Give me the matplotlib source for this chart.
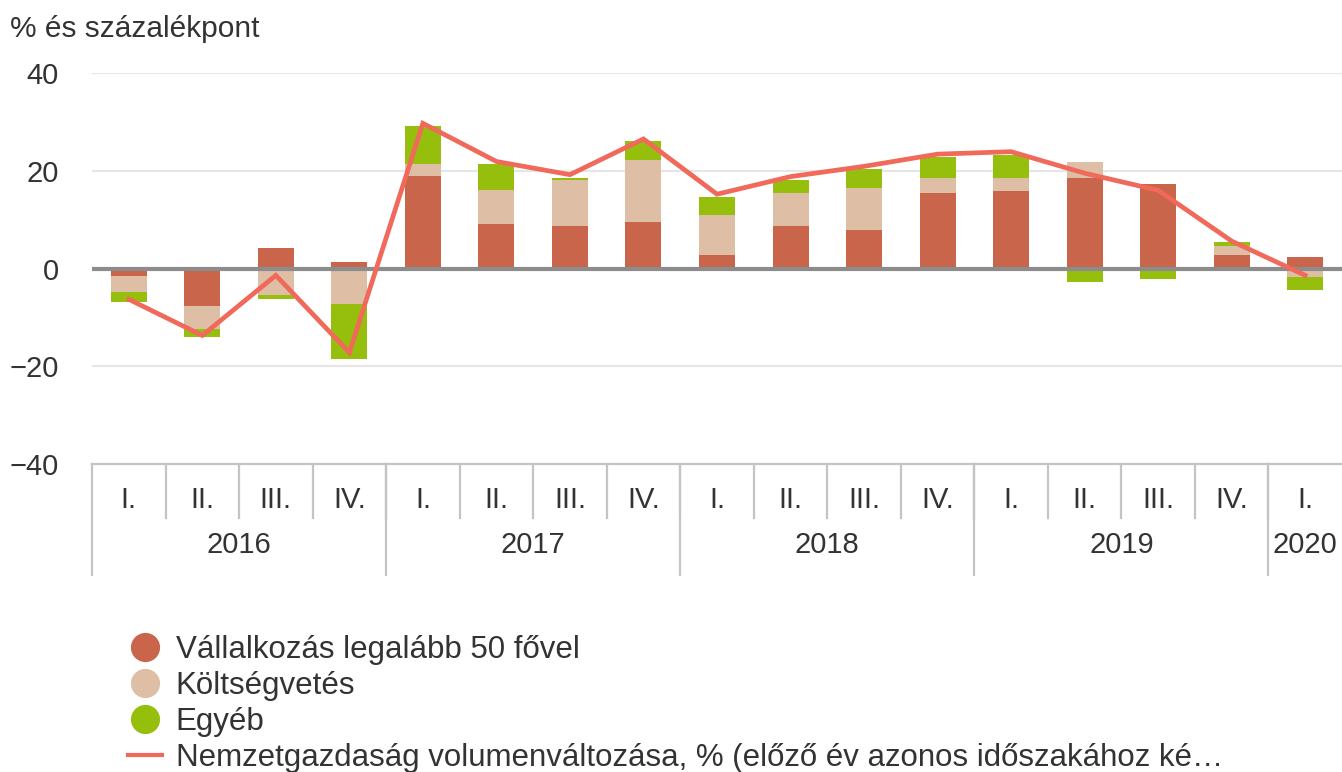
import numpy as np
import matplotlib
matplotlib.use("Agg")
from matplotlib import pyplot as plt
from matplotlib.lines import Line2D

plt.rcParams['font.family'] = ['Liberation Sans', 'DejaVu Sans']

quarters = ["I.", "II.", "III.", "IV."] * 4 + ["I."]
years = ["2016", "2017", "2018", "2019", "2020"]
year_len = [4, 4, 4, 4, 1]

vallalkozas = [-1.5, -7.7, 4.1, 1.4, 19.0, 9.1, 8.6, 9.5, 2.7, 8.6, 7.8, 15.4, 15.9, 18.6, 17.3, 2.7, 2.3]
koltsegvetes = [-3.4, -4.6, -5.5, -7.3, 2.4, 6.9, 9.6, 12.7, 8.2, 6.8, 8.6, 3.2, 2.7, 3.2, 0.0, 1.9, -1.8]
egyeb = [-1.9, -1.8, -0.8, -11.3, 7.8, 5.4, 0.4, 3.8, 3.7, 2.8, 4.0, 4.3, 4.7, -2.7, -2.2, 0.8, -2.7]
nemzetgazdasag = [-6.3, -13.7, -1.4, -17.2, 29.7, 21.9, 19.2, 26.5, 15.2, 18.8, 20.9, 23.4, 23.9, 19.5, 16.0, 5.6, -1.4]

labels = ["Vállalkozás legalább 50 fővel", "Költségvetés", "Egyéb",
          "Nemzetgazdaság volumenváltozása, % (előző év azonos időszakához ké…"]
colors = ["#C9654A", "#DEBFA6", "#96BF0D"]
line_color = "#F0695A"
grey_txt = "#333333"
sep_color = "#C4C4C4"

fig = plt.figure(figsize=(13.42, 7.72), dpi=100)
ax = fig.add_axes([92 / 1342, 1 - 464 / 772, 1 - 92 / 1342, (464 - 73) / 772])

x = np.arange(len(quarters))
pos_bottom = np.zeros(len(x))
neg_bottom = np.zeros(len(x))
# positive and negative parts are stacked separately from zero
for series, c in zip([vallalkozas, koltsegvetes, egyeb], colors):
    v = np.array(series)
    bottom = np.where(v >= 0, pos_bottom, neg_bottom)
    ax.bar(x, v, bottom=bottom, width=0.49, color=c, linewidth=0, zorder=2)
    pos_bottom += np.where(v > 0, v, 0)
    neg_bottom += np.where(v < 0, v, 0)

ax.plot(x, nemzetgazdasag, color=line_color, lw=3.4, zorder=4, solid_joinstyle='miter')

ax.set_xlim(-0.5, 16.5)
ax.set_ylim(-40, 40)
ax.set_yticks([-40, -20, 0, 20, 40])
ax.set_yticklabels(["\u221240", "\u221220", "0", "20", "40"])
ax.tick_params(axis='y', length=0, pad=24, labelsize=21, labelcolor=grey_txt)
ax.set_xticks([])
for s in ax.spines.values():
    s.set_visible(False)

for yv in [20, 40, -20]:
    ax.axhline(yv, color="#E6E6E6", lw=1.5, zorder=0)
ax.axhline(0, color="#8C8C8C", lw=3, zorder=3)
ax.axhline(-40, color=sep_color, lw=1.6, zorder=3, clip_on=False)

# two-level category axis: quarters, then years
tr = ax.get_xaxis_transform()
for i, q in enumerate(quarters):
    ax.text(i, -0.092, q, transform=tr, ha='center', va='center', fontsize=21, color=grey_txt)
    if i > 0:
        ax.plot([i - 0.5, i - 0.5], [0, -0.138], transform=tr, color=sep_color, lw=1.6, clip_on=False)

start = 0
for yr, n in zip(years, year_len):
    ax.text(start + (n - 1) / 2, -0.207, yr, transform=tr, ha='center', va='center', fontsize=21, color=grey_txt)
    ax.plot([start - 0.5, start - 0.5], [0, -0.284], transform=tr, color=sep_color, lw=1.6, clip_on=False)
    start += n

fig.text(10 / 1342, 1 - 29 / 772, "% és százalékpont", ha='left', va='center', fontsize=21.5, color=grey_txt)

handles = [Line2D([], [], marker='o', ls='none', ms=20, mfc=c, mec=c) for c in colors]
handles.append(Line2D([], [], color=line_color, lw=3))
fig.legend(handles, labels, loc='upper left', bbox_to_anchor=(128 / 1342, 1 - 635 / 772),
           frameon=False, fontsize=22.5, handlelength=1.1, handletextpad=0.42,
           labelspacing=0.19, borderpad=0, borderaxespad=0, labelcolor=grey_txt)

plt.savefig('out.png', dpi=100)
